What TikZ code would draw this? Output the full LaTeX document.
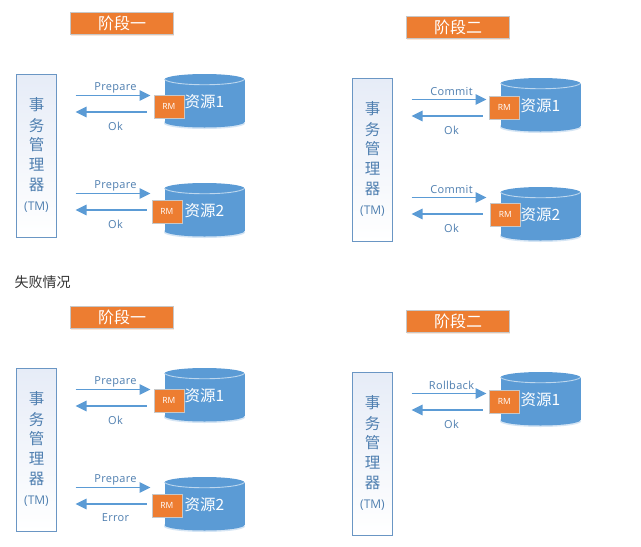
\documentclass[tikz,border=0pt]{standalone}
\usepackage{fontspec}
\setmainfont{Open Sans}
\newfontfamily\labfont[LetterSpace=3]{Open Sans}
\newfontfamily\cjk{Noto Sans CJK SC}
\usetikzlibrary{arrows.meta,shadows,shapes.geometric}
\definecolor{lineblue}{HTML}{5B9BD5}
\definecolor{edgeblue}{HTML}{6A96C4}
\definecolor{rmorange}{HTML}{ED7D31}
\definecolor{labelblue}{HTML}{4F7FB0}
\definecolor{tmtop}{HTML}{E6ECF7}
\tikzset{
  x=1pt,y=-1pt,
  titlebox/.style={draw=black!22,line width=0.8pt,fill=rmorange,text=white,minimum width=103pt,minimum height=22pt,inner sep=0pt,font=\cjk\fontsize{16}{16}\selectfont,
    drop shadow={shadow xshift=0pt,shadow yshift=-2pt,fill=rmorange,opacity=0.18}},
  tmbox/.style={draw=edgeblue,line width=1pt,top color=tmtop,bottom color=white,minimum width=40pt,minimum height=163pt,inner sep=0pt},
  tmtext/.style={text=labelblue,inner sep=0pt,font=\cjk\fontsize{15.5}{16}\selectfont},
  tmlatin/.style={text=labelblue,inner sep=0pt,font=\fontsize{12}{12}\selectfont},
  cylbody/.style={fill=lineblue,draw=none},
  cyltop/.style={draw=white!60!lineblue,line width=0.9pt},
  cylglow/.style={fill=lineblue,opacity=0.25,draw=none},
  cyltext/.style={text=white,inner sep=0pt,font=\cjk\fontsize{15.5}{16}\selectfont},
  rmbox/.style={draw=black!22,line width=0.8pt,fill=rmorange,text=white,minimum width=30pt,minimum height=23pt,inner sep=0pt,font=\fontsize{8.5}{9}\selectfont},
  conn/.style={draw=lineblue,line width=1.4pt,-{Triangle[length=11pt,width=10.5pt]}},
  linklabel/.style={text=labelblue,inner sep=0pt,font=\labfont\fontsize{11}{11}\selectfont},
  plain/.style={text=black!80,inner sep=0pt,font=\cjk\fontsize{14}{14}\selectfont},
}
\newcommand{\manager}[3]{%
  \node[tmbox] (#1tm) at (#2+20,#3+81.5) {};
  \node[tmtext] (#1a) at (#2+20,#3+31) {事};
  \node[tmtext] (#1b) at (#2+20,#3+51.5) {务};
  \node[tmtext] (#1c) at (#2+20,#3+71) {管};
  \node[tmtext] (#1d) at (#2+20,#3+91) {理};
  \node[tmtext] (#1e) at (#2+20,#3+111) {器};
  \node[tmlatin] (#1f) at (#2+20,#3+133) {(TM)};
}
% #1 name, #2 x of cylinder, #3 y top, #4 text, #5 RM left x, #6 RM top y
\newcommand{\resource}[6]{%
  \fill[cylglow] (#2+40,#3+49.5) ellipse[x radius=40.5pt,y radius=5.5pt];
  \fill[cylbody] (#2+40,#3+48) ellipse[x radius=40pt,y radius=5.5pt];
  \fill[cylbody] (#2,#3+5.5) rectangle (#2+80,#3+48);
  \fill[cylbody] (#2+40,#3+5.5) ellipse[x radius=40pt,y radius=5.5pt];
  \draw[cyltop] (#2,#3+5.5) .. controls (#2+8,#3+12.5) and (#2+72,#3+12.5) .. (#2+80,#3+5.5);
  \node[cyltext] (#1name) at (#2+40,#3+28) {#4};
  \node[rmbox,anchor=north west] (#1rm) at (#5,#6) {RM};
}
% #1 name, #2 arrow left x, #3 upper arrow y, #4 upper label, #5 lower label
\newcommand{\links}[5]{%
  \coordinate (#1ua) at (#2,#3);
  \coordinate (#1ub) at (#2+75,#3);
  \coordinate (#1la) at (#2+71,#3+16.5);
  \coordinate (#1lb) at (#2,#3+16.5);
  \draw[conn] (#1ua) -- (#1ub);
  \draw[conn] (#1la) -- (#1lb);
  \node[linklabel] (#1ul) at (#2+40,#3-8) {#4};
  \node[linklabel] (#1ll) at (#2+40,#3+30.5) {#5};
}
\begin{document}
\begin{tikzpicture}
\useasboundingbox (0.5,0) rectangle (641.5,547);
\fill[white] (0.5,0) rectangle (641.5,547);
% top left
\node[titlebox] (ta) at (122.5,23) {阶段一};
\manager{a}{17}{74}
\resource{aa}{165}{74}{资源1}{154}{95}
\links{aal}{76}{95.5}{Prepare}{Ok}
\resource{ab}{165}{183}{资源2}{152}{200}
\links{abl}{76}{193.5}{Prepare}{Ok}
% top right
\node[titlebox] (tb) at (458.5,27) {阶段二};
\manager{b}{353}{78}
\resource{ba}{501}{78}{资源1}{489.5}{96}
\links{bal}{412}{99.5}{Commit}{Ok}
\resource{bb}{501}{187}{资源2}{490.5}{203}
\links{bbl}{412}{197.5}{Commit}{Ok}
% caption
\node[plain,anchor=west] (cap) at (15,282.5) {失败情况};
% bottom left
\node[titlebox] (tc) at (122.5,317) {阶段一};
\manager{c}{17}{368}
\resource{ca}{165}{368}{资源1}{154}{389}
\links{cal}{76}{389.5}{Prepare}{Ok}
\resource{cb}{165}{477}{资源2}{152}{494}
\links{cbl}{76}{487.5}{Prepare}{Error}
% bottom right
\node[titlebox] (td) at (458.5,321) {阶段二};
\manager{d}{353}{372}
\resource{da}{501}{372}{资源1}{489.5}{390}
\links{dal}{412}{393.5}{Rollback}{Ok}
\end{tikzpicture}
\end{document}
